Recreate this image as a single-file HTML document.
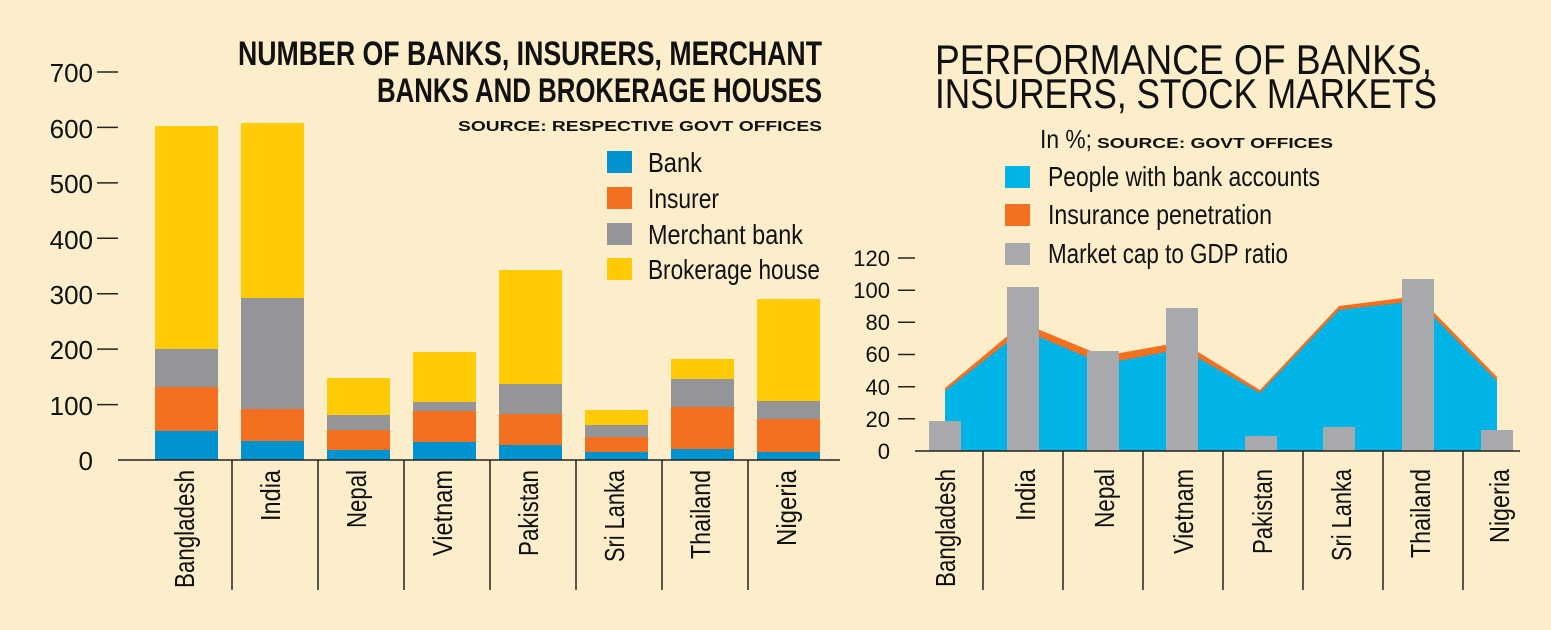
<!DOCTYPE html>
<html><head><meta charset="utf-8"><style>
html,body{margin:0;padding:0;background:#fdeecb;}
svg{display:block;}
text{font-family:"Liberation Sans Narrow","Liberation Sans",sans-serif;fill:#111;}
</style></head><body>
<svg width="1551" height="630" viewBox="0 0 1551 630" xmlns="http://www.w3.org/2000/svg">
<rect width="1551" height="630" fill="#fdeecb"/>
<!-- LEFT CHART -->
<g font-size="26">
<text x="93" y="470" text-anchor="end">0</text>
<text x="93" y="415" text-anchor="end">100</text>
<text x="93" y="359" text-anchor="end">200</text>
<text x="93" y="304" text-anchor="end">300</text>
<text x="93" y="249" text-anchor="end">400</text>
<text x="93" y="193" text-anchor="end">500</text>
<text x="93" y="138" text-anchor="end">600</text>
<text x="93" y="82" text-anchor="end">700</text>
</g>
<g stroke="#222" stroke-width="1.5">
<line x1="97" y1="72" x2="118" y2="72"/><line x1="97" y1="127.4" x2="118" y2="127.4"/>
<line x1="97" y1="182.9" x2="118" y2="182.9"/><line x1="97" y1="238.3" x2="118" y2="238.3"/>
<line x1="97" y1="293.7" x2="118" y2="293.7"/><line x1="97" y1="349.1" x2="118" y2="349.1"/>
<line x1="97" y1="404.6" x2="118" y2="404.6"/>
</g>
<g stroke="#222" stroke-width="1.5">
<line x1="232" y1="460" x2="232" y2="590"/><line x1="318" y1="460" x2="318" y2="590"/>
<line x1="404" y1="460" x2="404" y2="590"/><line x1="490" y1="460" x2="490" y2="590"/>
<line x1="576" y1="460" x2="576" y2="590"/><line x1="662" y1="460" x2="662" y2="590"/>
<line x1="748" y1="460" x2="748" y2="590"/>
</g>
<g font-size="28">
<text transform="translate(194,470) rotate(-90)" text-anchor="end" textLength="118" lengthAdjust="spacingAndGlyphs">Bangladesh</text>
<text transform="translate(280,470) rotate(-90)" text-anchor="end" textLength="51" lengthAdjust="spacingAndGlyphs">India</text>
<text transform="translate(366,470) rotate(-90)" text-anchor="end" textLength="58" lengthAdjust="spacingAndGlyphs">Nepal</text>
<text transform="translate(452,470) rotate(-90)" text-anchor="end" textLength="86" lengthAdjust="spacingAndGlyphs">Vietnam</text>
<text transform="translate(538,470) rotate(-90)" text-anchor="end" textLength="86" lengthAdjust="spacingAndGlyphs">Pakistan</text>
<text transform="translate(624,470) rotate(-90)" text-anchor="end" textLength="92" lengthAdjust="spacingAndGlyphs">Sri Lanka</text>
<text transform="translate(710,470) rotate(-90)" text-anchor="end" textLength="89" lengthAdjust="spacingAndGlyphs">Thailand</text>
<text transform="translate(796,470) rotate(-90)" text-anchor="end" textLength="76" lengthAdjust="spacingAndGlyphs">Nigeria</text>
</g>
<text x="238" y="65" font-size="34" font-weight="bold" textLength="584" lengthAdjust="spacingAndGlyphs">NUMBER OF BANKS, INSURERS, MERCHANT</text>
<text x="377" y="102" font-size="34" font-weight="bold" textLength="445" lengthAdjust="spacingAndGlyphs">BANKS AND BROKERAGE HOUSES</text>
<text x="458" y="131" font-size="15" font-weight="bold" font-family="Liberation Sans,sans-serif" textLength="364" lengthAdjust="spacingAndGlyphs">SOURCE: RESPECTIVE GOVT OFFICES</text>
<rect x="607" y="151" width="25" height="22" fill="#0093d0"/>
<rect x="607" y="187" width="25" height="22" fill="#f37021"/>
<rect x="607" y="223" width="25" height="22" fill="#939598"/>
<rect x="607" y="258" width="25" height="22" fill="#ffcb05"/>
<g font-size="28">
<text x="648" y="172" textLength="54" lengthAdjust="spacingAndGlyphs">Bank</text>
<text x="648" y="208" textLength="71" lengthAdjust="spacingAndGlyphs">Insurer</text>
<text x="648" y="244" textLength="155" lengthAdjust="spacingAndGlyphs">Merchant bank</text>
<text x="648" y="279" textLength="172" lengthAdjust="spacingAndGlyphs">Brokerage house</text>
</g>
<!-- RIGHT CHART -->
<g font-size="22">
<text x="890" y="459" text-anchor="end">0</text>
<text x="890" y="427" text-anchor="end">20</text>
<text x="890" y="395" text-anchor="end">40</text>
<text x="890" y="362" text-anchor="end">60</text>
<text x="890" y="330" text-anchor="end">80</text>
<text x="890" y="298" text-anchor="end">100</text>
<text x="890" y="266" text-anchor="end">120</text>
</g>
<g stroke="#222" stroke-width="1.5">
<line x1="898" y1="258" x2="915" y2="258"/><line x1="898" y1="290.2" x2="915" y2="290.2"/>
<line x1="898" y1="322.3" x2="915" y2="322.3"/><line x1="898" y1="354.5" x2="915" y2="354.5"/>
<line x1="898" y1="386.7" x2="915" y2="386.7"/><line x1="898" y1="418.8" x2="915" y2="418.8"/>
</g>
<polygon fill="#f37021" points="945,451 945,388 1023,323 1103,356 1182,342 1260,390 1339,306 1418,296 1497,377 1497,451"/>
<polygon fill="#00b4e8" points="945,451 945,391 1023,330 1103,364 1182,349 1260,393 1339,310 1418,301 1497,381 1497,451"/>
<g fill="#a7a9ac">
<rect x="929" y="421" width="32" height="30"/>
<rect x="1007" y="287" width="32" height="164"/>
<rect x="1087" y="351" width="32" height="100"/>
<rect x="1166" y="308" width="32" height="143"/>
<rect x="1245" y="436" width="32" height="15"/>
<rect x="1323" y="427" width="32" height="24"/>
<rect x="1402" y="279" width="32" height="172"/>
<rect x="1481" y="430" width="32" height="21"/>
</g>
<g stroke="#222" stroke-width="1.5">
<line x1="915" y1="451" x2="1520" y2="451"/>
<line x1="983" y1="451" x2="983" y2="590"/><line x1="1063" y1="451" x2="1063" y2="590"/>
<line x1="1143" y1="451" x2="1143" y2="590"/><line x1="1223" y1="451" x2="1223" y2="590"/>
<line x1="1303" y1="451" x2="1303" y2="590"/><line x1="1383" y1="451" x2="1383" y2="590"/>
<line x1="1463" y1="451" x2="1463" y2="590"/>
</g>
<g font-size="28">
<text transform="translate(955,469) rotate(-90)" text-anchor="end" textLength="118" lengthAdjust="spacingAndGlyphs">Bangladesh</text>
<text transform="translate(1035,469) rotate(-90)" text-anchor="end" textLength="52" lengthAdjust="spacingAndGlyphs">India</text>
<text transform="translate(1114,469) rotate(-90)" text-anchor="end" textLength="59" lengthAdjust="spacingAndGlyphs">Nepal</text>
<text transform="translate(1193,469) rotate(-90)" text-anchor="end" textLength="85" lengthAdjust="spacingAndGlyphs">Vietnam</text>
<text transform="translate(1272,469) rotate(-90)" text-anchor="end" textLength="85" lengthAdjust="spacingAndGlyphs">Pakistan</text>
<text transform="translate(1351,469) rotate(-90)" text-anchor="end" textLength="92" lengthAdjust="spacingAndGlyphs">Sri Lanka</text>
<text transform="translate(1430,469) rotate(-90)" text-anchor="end" textLength="89" lengthAdjust="spacingAndGlyphs">Thailand</text>
<text transform="translate(1509,469) rotate(-90)" text-anchor="end" textLength="74" lengthAdjust="spacingAndGlyphs">Nigeria</text>
</g>
<text x="935" y="74" font-size="42" textLength="497" lengthAdjust="spacingAndGlyphs">PERFORMANCE OF BANKS,</text>
<text x="935" y="108" font-size="42" textLength="502" lengthAdjust="spacingAndGlyphs">INSURERS, STOCK MARKETS</text>
<text x="1040" y="148" font-size="26" textLength="52" lengthAdjust="spacingAndGlyphs">In %;</text>
<text x="1097" y="148" font-size="15" font-weight="bold" font-family="Liberation Sans,sans-serif" textLength="236" lengthAdjust="spacingAndGlyphs">SOURCE: GOVT OFFICES</text>
<rect x="1005" y="166" width="25" height="22" fill="#00b4e8"/>
<rect x="1005" y="204" width="25" height="22" fill="#f37021"/>
<rect x="1005" y="243" width="25" height="22" fill="#a7a9ac"/>
<g font-size="28">
<text x="1048" y="186" textLength="272" lengthAdjust="spacingAndGlyphs">People with bank accounts</text>
<text x="1048" y="224" textLength="224" lengthAdjust="spacingAndGlyphs">Insurance penetration</text>
<text x="1048" y="263" textLength="240" lengthAdjust="spacingAndGlyphs">Market cap to GDP ratio</text>
</g>
<!-- LEFT BARS -->
<g>
<rect x="155" y="126" width="63" height="223" fill="#ffcb05"/>
<rect x="155" y="349" width="63" height="38" fill="#939598"/>
<rect x="155" y="387" width="63" height="44" fill="#f37021"/>
<rect x="155" y="431" width="63" height="29" fill="#0093d0"/>
<rect x="241" y="123" width="63" height="175" fill="#ffcb05"/>
<rect x="241" y="298" width="63" height="111" fill="#939598"/>
<rect x="241" y="409" width="63" height="32" fill="#f37021"/>
<rect x="241" y="441" width="63" height="19" fill="#0093d0"/>
<rect x="327" y="378" width="63" height="37" fill="#ffcb05"/>
<rect x="327" y="415" width="63" height="15" fill="#939598"/>
<rect x="327" y="430" width="63" height="20" fill="#f37021"/>
<rect x="327" y="450" width="63" height="10" fill="#0093d0"/>
<rect x="413" y="352" width="63" height="50" fill="#ffcb05"/>
<rect x="413" y="402" width="63" height="9" fill="#939598"/>
<rect x="413" y="411" width="63" height="31" fill="#f37021"/>
<rect x="413" y="442" width="63" height="18" fill="#0093d0"/>
<rect x="499" y="270" width="63" height="114" fill="#ffcb05"/>
<rect x="499" y="384" width="63" height="30" fill="#939598"/>
<rect x="499" y="414" width="63" height="31" fill="#f37021"/>
<rect x="499" y="445" width="63" height="15" fill="#0093d0"/>
<rect x="585" y="410" width="63" height="15" fill="#ffcb05"/>
<rect x="585" y="425" width="63" height="12" fill="#939598"/>
<rect x="585" y="437" width="63" height="15" fill="#f37021"/>
<rect x="585" y="452" width="63" height="8" fill="#0093d0"/>
<rect x="671" y="359" width="63" height="20" fill="#ffcb05"/>
<rect x="671" y="379" width="63" height="28" fill="#939598"/>
<rect x="671" y="407" width="63" height="42" fill="#f37021"/>
<rect x="671" y="449" width="63" height="11" fill="#0093d0"/>
<rect x="757" y="299" width="63" height="102" fill="#ffcb05"/>
<rect x="757" y="401" width="63" height="18" fill="#939598"/>
<rect x="757" y="419" width="63" height="33" fill="#f37021"/>
<rect x="757" y="452" width="63" height="8" fill="#0093d0"/>
</g>
<line x1="118" y1="460" x2="840" y2="460" stroke="#222" stroke-width="1.5"/>
</svg>
</body></html>
